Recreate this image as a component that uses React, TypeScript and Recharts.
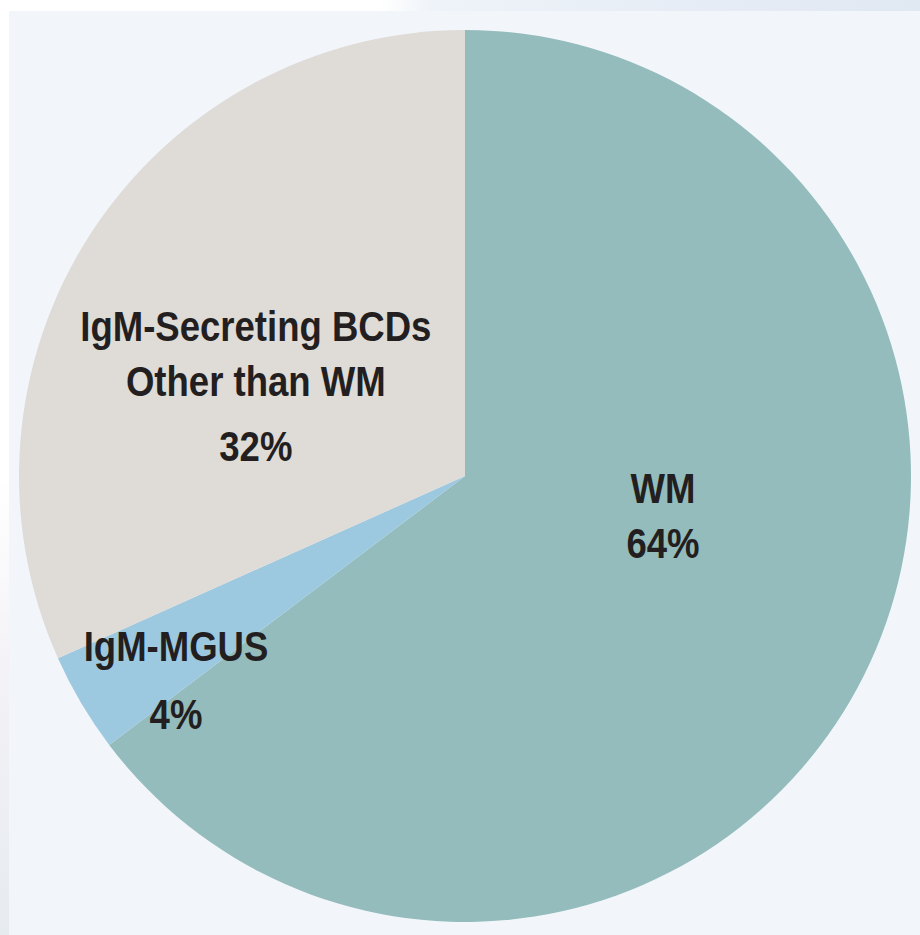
import React from "react";
import { PieChart, Pie, Cell } from "recharts";

const categories = ["WM", "IgM-MGUS", "IgM-Secreting BCDs\nOther than WM"];
// slice sizes as drawn in the picture
const shares = [64.7, 3.6, 31.7];
// percentages printed on the slices
const percentLabels = ["64%", "4%", "32%"];
const colors = ["#95bcbc", "#9dc9e0", "#dfdbd7"];

// label layout, relative to the pie centre in units of the outer radius
const labelLayout: Record<string, { dx: number; nameY: number; pctY: number }> = {
  WM: { dx: 0.444, nameY: 0.027, pctY: 0.151 },
  "IgM-MGUS": { dx: -0.648, nameY: 0.382, pctY: 0.534 },
  "IgM-Secreting BCDs\nOther than WM": { dx: -0.469, nameY: -0.336, pctY: -0.068 },
};

const data = categories.map((name, i) => ({ name, value: shares[i], pct: percentLabels[i] }));

const FONT = "'Liberation Sans', Arial, sans-serif";
const SQUEEZE = 0.85;

const Line = ({ x, y, children }: { x: number; y: number; children: React.ReactNode }) => (
  <text
    transform={`translate(${x},${y}) scale(${SQUEEZE},1)`}
    x={0}
    y={0}
    textAnchor="middle"
    dominantBaseline="central"
    fill="#231f20"
    fontFamily={FONT}
    fontWeight="bold"
    fontSize={43}
  >
    {children}
  </text>
);

const renderLabel = (props: any) => {
  const { cx, cy, outerRadius, name, payload } = props;
  const lay = labelLayout[name];
  if (!lay) return null;
  const x = cx + lay.dx * outerRadius;
  const lines = String(name).split("\n");
  const y0 = cy + lay.nameY * outerRadius;
  const yp = cy + lay.pctY * outerRadius;
  const pct = payload?.pct ?? props.pct;
  return (
    <g>
      {lines.map((ln, i) => (
        <Line key={i} x={x} y={y0 + i * 55}>
          {ln}
        </Line>
      ))}
      <Line x={x} y={yp}>
        {pct}
      </Line>
    </g>
  );
};

export default function App() {
  return (
    <div style={{ position: "absolute", left: 0, top: 0, width: 920, height: 935, background: "#ffffff", overflow: "hidden" }}>
      <div
        style={{
          position: "absolute",
          left: 380,
          top: 0,
          width: 540,
          height: 11,
          background: "linear-gradient(to right, #ffffff 0%, #eef3f9 10%, #e6ecf5 60%, #e0e8f2 100%)",
        }}
      />
      <div
        style={{
          position: "absolute",
          left: 0,
          top: 480,
          width: 9,
          height: 455,
          background: "linear-gradient(to bottom, #ffffff 0%, #f4f2f6 40%, #e6ebf0 100%)",
        }}
      />
      <div style={{ position: "absolute", left: 9, top: 11, width: 911, height: 924, background: "#f2f6fb" }} />
      <div style={{ position: "absolute", left: 0, top: 0 }}>
        <PieChart width={920} height={935}>
          <Pie
            data={data}
            dataKey="value"
            nameKey="name"
            cx={460}
            cy={471}
            outerRadius={446}
            startAngle={90}
            endAngle={-270}
            stroke="none"
            label={renderLabel}
            labelLine={false}
            isAnimationActive={false}
          >
            {data.map((d, i) => (
              <Cell key={d.name} fill={colors[i]} />
            ))}
          </Pie>
        </PieChart>
      </div>
    </div>
  );
}
